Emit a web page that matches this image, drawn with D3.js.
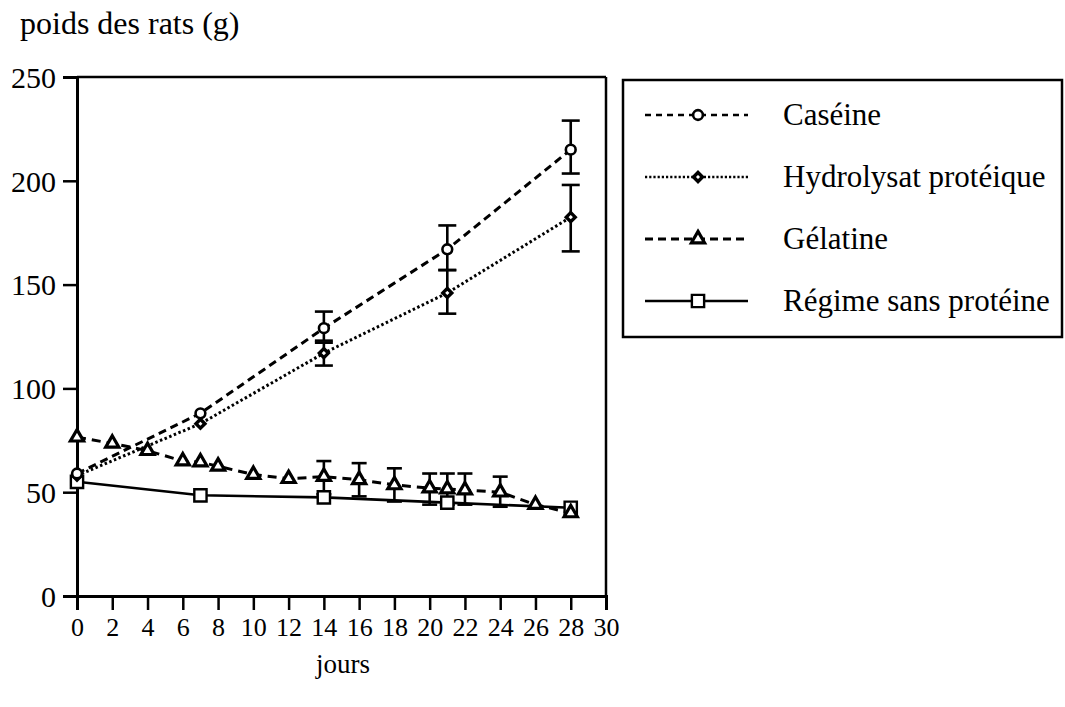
<!DOCTYPE html>
<html><head><meta charset="utf-8">
<script src="https://cdn.jsdelivr.net/npm/d3@7"></script>
<style>body{margin:0;background:#fff;} svg text{font-family:"Liberation Serif","DejaVu Serif","Times New Roman",Times,serif !important;fill:#000;}</style>
</head><body>
<svg id="c" width="1065" height="707"></svg>
<script>
const xTicks = [0,2,4,6,8,10,12,14,16,18,20,22,24,26,28,30];
const yTicks = [0,50,100,150,200,250];

const caseineDays = [0,7,14,21,28];
const caseineVals = [59,88,129,167,215];
const caseineErr = [[14,123,137],[21,157,178.5],[28,203.5,229]];

const hydroDays = [0,7,14,21,28];
const hydroVals = [58,83,117,146,182.5];
const hydroErr = [[14,111,122],[21,136,157],[28,166,198]];

const gelDays = [0,2,4,6,7,8,10,12,14,16,18,20,21,22,24,26,28];
const gelVals = [76.5,73.5,70,65,64.5,62.5,58.5,56.5,57.5,56,53.5,52,51.5,51,50,44,40];
const gelErr = [[14,49,65],[16,48,64],[18,45.5,61.5],[20,44,59],[21,44,59],[22,44,59],[24,43,57.5]];

const sansDays = [0,7,14,21,28];
const sansVals = [55,48.5,47.5,45,42.5];

const seriesNames = ["Caséine","Hydrolysat protéique","Gélatine","Régime sans protéine"];

const FONT = '"Liberation Serif","DejaVu Serif","Times New Roman",Times,serif';
const svg = d3.select("#c");
const x = d3.scaleLinear().domain([0,30]).range([77,606]);
const y = d3.scaleLinear().domain([0,250]).range([596,77]);

// axes
const xa = svg.append("g").attr("transform","translate(0,596)")
  .call(d3.axisBottom(x).tickValues(xTicks).tickSize(14).tickPadding(8));
xa.attr("font-family",FONT).attr("font-size",26);
xa.select(".domain").attr("stroke-width",3);
xa.selectAll(".tick line").attr("stroke-width",2.5);

const ya = svg.append("g").attr("transform","translate(77,0)")
  .call(d3.axisLeft(y).tickValues(yTicks).tickSize(14).tickPadding(7));
ya.attr("font-family",FONT).attr("font-size",30);
ya.select(".domain").attr("stroke-width",3);
ya.selectAll(".tick line").attr("stroke-width",2.5);
ya.selectAll(".tick text").attr("dy","0.34em");

// frame top & right
svg.append("line").attr("x1",x(0)).attr("x2",x(30)).attr("y1",y(250)).attr("y2",y(250)).attr("stroke","#000").attr("stroke-width",2.5);
svg.append("line").attr("x1",x(30)).attr("x2",x(30)).attr("y1",y(250)).attr("y2",y(0)).attr("stroke","#000").attr("stroke-width",2.5);

svg.append("text").attr("x",20).attr("y",34).attr("font-family",FONT).attr("font-size",32).text("poids des rats (g)");
svg.append("text").attr("x",343).attr("y",673).attr("text-anchor","middle").attr("font-family",FONT).attr("font-size",27).text("jours");

const line = d3.line().x(d=>x(d[0])).y(d=>y(d[1]));
const zip = (a,b)=>a.map((d,i)=>[d,b[i]]);

function errBars(err, w){
  const g = svg.append("g").attr("stroke","#000").attr("stroke-width",2.6);
  err.forEach(e=>{
    g.append("line").attr("x1",x(e[0])).attr("x2",x(e[0])).attr("y1",y(e[1])).attr("y2",y(e[2]));
    g.append("line").attr("x1",x(e[0])-w/2).attr("x2",x(e[0])+w/2).attr("y1",y(e[1])).attr("y2",y(e[1]));
    g.append("line").attr("x1",x(e[0])-w/2).attr("x2",x(e[0])+w/2).attr("y1",y(e[2])).attr("y2",y(e[2]));
  });
}
errBars(gelErr,15);
errBars(caseineErr,18);
errBars(hydroErr,18);

// lines
svg.append("path").datum(zip(sansDays,sansVals)).attr("d",line).attr("fill","none").attr("stroke","#000").attr("stroke-width",2.6);
svg.append("path").datum(zip(gelDays,gelVals)).attr("d",line).attr("fill","none").attr("stroke","#000").attr("stroke-width",3).attr("stroke-dasharray","9,6");
svg.append("path").datum(zip(hydroDays,hydroVals)).attr("d",line).attr("fill","none").attr("stroke","#000").attr("stroke-width",3).attr("stroke-dasharray","2.5,2.5");
svg.append("path").datum(zip(caseineDays,caseineVals)).attr("d",line).attr("fill","none").attr("stroke","#000").attr("stroke-width",3).attr("stroke-dasharray","8,5");

// markers
const diamondType = { draw(ctx, size){ const r = Math.sqrt(size/2); ctx.moveTo(0,-r); ctx.lineTo(r,0); ctx.lineTo(0,r); ctx.lineTo(-r,0); ctx.closePath(); } };
const sym = {
  circle: d3.symbol().type(d3.symbolCircle).size(75),
  diamond: d3.symbol().type(diamondType).size(40),
  triangle: d3.symbol().type(d3.symbolTriangle).size(75),
  square: d3.symbol().type(d3.symbolSquare).size(150)
};
function markers(days, vals, s, sw){
  svg.append("g").selectAll("path").data(zip(days,vals)).join("path")
    .attr("transform",d=>`translate(${x(d[0])},${y(d[1])})`)
    .attr("d",sym[s]).attr("fill","#fff").attr("stroke","#000").attr("stroke-width",sw);
}
markers(sansDays,sansVals,"square",2.4);
markers(gelDays,gelVals,"triangle",3.2);
markers(hydroDays,hydroVals,"diamond",3.4);
markers(caseineDays,caseineVals,"circle",2.6);

// legend
svg.append("rect").attr("x",623).attr("y",80).attr("width",439).attr("height",257).attr("fill","none").attr("stroke","#000").attr("stroke-width",2.5);
const legStyles = [
  {dash:"6,5", sw:2.5, s:"circle", msw:2.6},
  {dash:"2.2,2", sw:2.5, s:"diamond", msw:3.4},
  {dash:"8,5", sw:2.8, s:"triangle", msw:3.2},
  {dash:null, sw:2.5, s:"square", msw:2.4}
];
const legY = d3.scalePoint().domain(seriesNames).range([115,301]);
seriesNames.forEach((n,i)=>{
  const yy = legY(n), st = legStyles[i];
  const l = svg.append("line").attr("x1",645).attr("x2",748).attr("y1",yy).attr("y2",yy).attr("stroke","#000").attr("stroke-width",st.sw);
  if(st.dash) l.attr("stroke-dasharray",st.dash);
  svg.append("path").attr("transform",`translate(698,${yy})`).attr("d",sym[st.s]).attr("fill","#fff").attr("stroke","#000").attr("stroke-width",st.msw);
  svg.append("text").attr("x",783).attr("y",yy).attr("dy","0.33em").attr("font-family",FONT).attr("font-size",31).text(n);
});
</script>
</body></html>
